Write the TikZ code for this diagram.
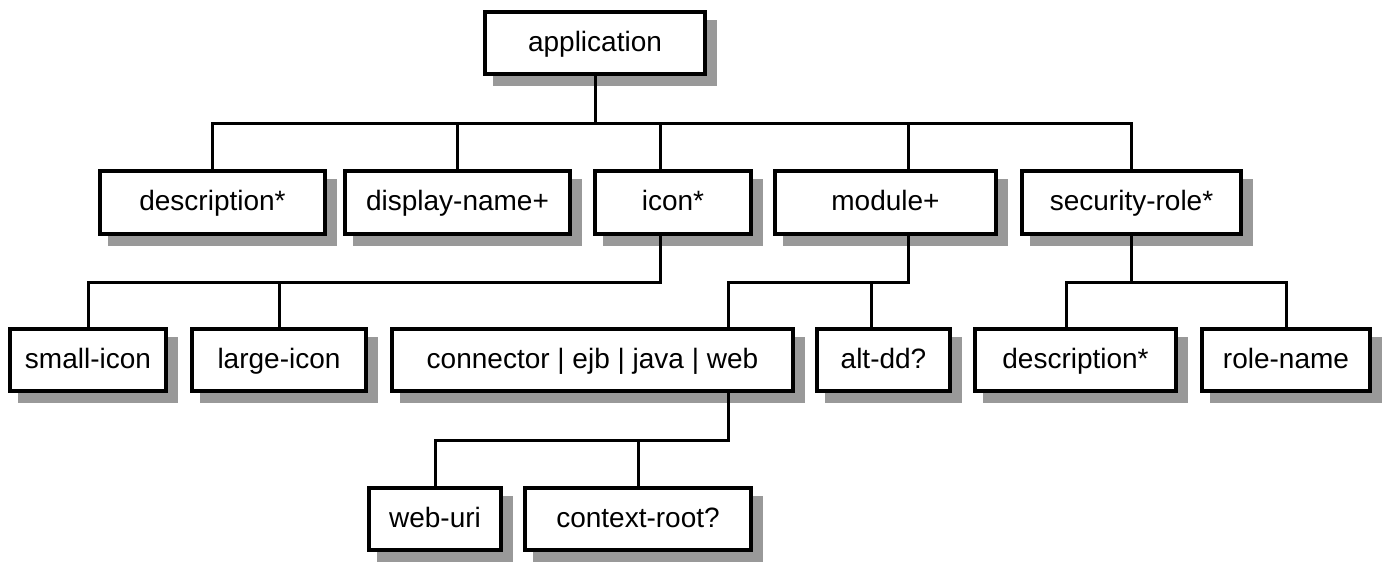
\documentclass[tikz,border=0pt]{standalone}
\usepackage{fontspec}
\setmainfont{Liberation Sans}
\usetikzlibrary{calc}
\definecolor{shadowgray}{gray}{0.6}
\newcommand{\dtdbox}[6]{
	\fill[shadowgray] (#2+10,#3+10) rectangle (#4+10,#5+10);
	\node[elem, minimum width={(#4-#2)*0.5pt-2pt}, minimum height={(#5-#3)*0.5pt-2pt}] (#1) at ({(#2+#4)/2},{(#3+#5)/2}) {#6};
}

\begin{document}
\begin{tikzpicture}[x=0.5pt,y=-0.5pt,
	elem/.style={draw, line width=2pt, fill=white, inner sep=0pt, text height=10pt, text depth=2pt, font=\fontsize{14}{16}\selectfont},
	link/.style={line width=1.5pt}]
	\useasboundingbox (0,0) rectangle (1385,563);

	\dtdbox{app}{483}{10}{707}{76}{application}
	\dtdbox{desc}{98}{169}{327}{236}{description*}
	\dtdbox{dname}{343}{169}{572}{236}{display-name+}
	\dtdbox{icon}{593}{169}{753}{236}{icon*}
	\dtdbox{module}{773}{169}{998}{236}{module+}
	\dtdbox{secrole}{1020}{169}{1243}{236}{security-role*}
	\dtdbox{sicon}{8}{327}{168}{393}{small-icon}
	\dtdbox{licon}{190}{327}{368}{393}{large-icon}
	\dtdbox{comp}{390}{327}{795}{393}{connector | ejb | java | web}
	\dtdbox{altdd}{815}{327}{952}{393}{alt-dd?}
	\dtdbox{rdesc}{973}{327}{1178}{393}{description*}
	\dtdbox{rname}{1200}{327}{1372}{393}{role-name}
	\dtdbox{weburi}{367}{486}{503}{552}{web-uri}
	\dtdbox{ctxroot}{523}{486}{753}{552}{context-root?}

	\coordinate (busA) at (0,123);
	\coordinate (busB) at (0,282);
	\coordinate (busC) at (0,440);

	% application
	\draw[link] (app.south) -- (app.south |- busA);
	\draw[link] (desc.north) |- (secrole.north |- busA) -- (secrole.north);
	\draw[link] (dname.north) -- (dname.north |- busA);
	\draw[link] (660,0 |- icon.north) -- (660,0 |- busA);
	\draw[link] (908,0 |- module.north) -- (908,0 |- busA);

	% icon
	\draw[link] (660,0 |- icon.south) |- (sicon.north |- busB) -- (sicon.north);
	\draw[link] (licon.north) -- (licon.north |- busB);

	% module
	\draw[link] (908,0 |- module.south) |- (728,0 |- busB) -- (728,0 |- comp.north);
	\draw[link] (871,0 |- altdd.north) -- (871,0 |- busB);

	% security-role
	\draw[link] (secrole.south) -- (secrole.south |- busB);
	\draw[link] (1066,0 |- rdesc.north) |- (rname.north |- busB) -- (rname.north);

	% connector | ejb | java | web
	\draw[link] (728,0 |- comp.south) |- (weburi.north |- busC) -- (weburi.north);
	\draw[link] (ctxroot.north) -- (ctxroot.north |- busC);
\end{tikzpicture}
\end{document}
